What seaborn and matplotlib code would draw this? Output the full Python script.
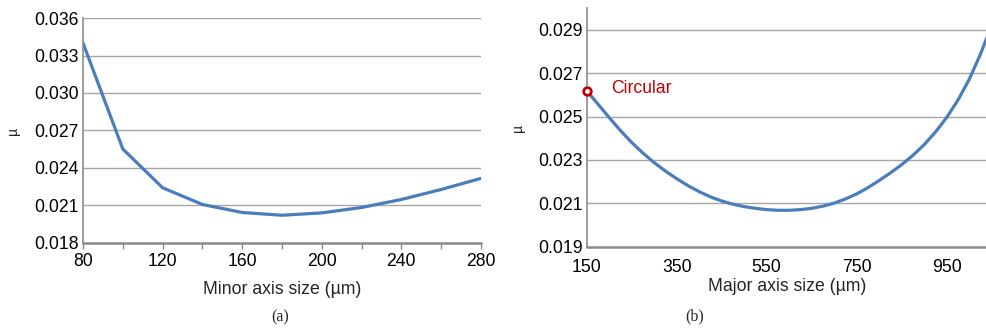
import numpy as np
import pandas as pd
import matplotlib
matplotlib.use("Agg")
import matplotlib.pyplot as plt
import seaborn as sns

# ---- data ----
minor_size = [80, 100, 120, 140, 160, 180, 200, 220, 240, 260, 280]
minor_mu = [0.0340, 0.02552, 0.02242, 0.02108, 0.02044, 0.02022,
            0.02041, 0.02084, 0.02148, 0.02228, 0.02317]

major_size = [150, 175, 200, 225, 250, 275, 300, 325, 350, 375, 400, 425,
              450, 475, 500, 525, 550, 575, 600, 625, 650, 675, 700, 725,
              750, 775, 800, 825, 850, 875, 900, 925, 950, 975, 1000,
              1025, 1040]
major_mu = [0.02620, 0.02558, 0.02496, 0.02436, 0.02381, 0.02332, 0.02288,
            0.02249, 0.02214, 0.02182, 0.02154, 0.02130, 0.02111, 0.02096,
            0.02085, 0.02077, 0.02071, 0.02068, 0.02068, 0.02071, 0.02077,
            0.02087, 0.02101, 0.02120, 0.02143, 0.02172, 0.02205, 0.02240,
            0.02278, 0.02321, 0.02370, 0.02428, 0.02495, 0.02575, 0.02670,
            0.02786, 0.02866]

circular_size = [150]
circular_mu = [0.02620]

minor_ticks_x = [80, 120, 160, 200, 240, 280]
minor_ticks_y = [0.018, 0.021, 0.024, 0.027, 0.030, 0.033, 0.036]
major_ticks_x = [150, 350, 550, 750, 950]
major_ticks_y = [0.019, 0.021, 0.023, 0.025, 0.027, 0.029]

df_a = pd.DataFrame({"size": minor_size, "mu": minor_mu})
df_b = pd.DataFrame({"size": major_size, "mu": major_mu})

sns.set_style("white")
plt.rcParams['font.family'] = ['Liberation Sans', 'DejaVu Sans']

LINE = "#4a7ebb"
GRID = "#a6a6a6"
SPINE = "#8c8c8c"
RED = "#c00000"
FS = 12.7

fig = plt.figure(figsize=(9.87, 3.31), dpi=100)
ax1 = fig.add_axes([0.0841, 0.2659, 0.4032, 0.6797])
ax2 = fig.add_axes([0.5944, 0.2547, 0.4056, 0.7203])

## (a) minor axis
sns.lineplot(data=df_a, x="size", y="mu", ax=ax1, color=LINE, linewidth=2.3)
ax1.set_xlim(80, 280)
ax1.set_ylim(0.018, 0.036)
ax1.set_xticks(minor_ticks_x)
ax1.set_xticks(np.arange(80, 281, 20), minor=True)
ax1.set_yticks(minor_ticks_y)
ax1.set_yticklabels([f"{v:.3f}" for v in minor_ticks_y])
ax1.tick_params(axis="x", which="both", direction="out", length=4, width=1,
                bottom=True, labelsize=FS, pad=3)
ax1.tick_params(axis="y", length=0, labelsize=FS, pad=3)
ax1.set_xlabel("Minor axis size (µm)", fontsize=FS, labelpad=8)
ax1.set_ylabel("µ", fontsize=10, labelpad=10)

## (b) major axis
sns.lineplot(data=df_b, x="size", y="mu", ax=ax2, color=LINE, linewidth=2.3)
ax2.scatter(circular_size, circular_mu, s=30, facecolor="white", edgecolor=RED,
            linewidth=2, zorder=5, clip_on=False)
ax2.text(205, 0.02628, "Circular", color=RED, fontsize=FS, va="center")
ax2.set_xlim(150, 1040)
ax2.set_ylim(0.019, 0.030)
ax2.set_xticks(major_ticks_x)
ax2.set_yticks(major_ticks_y)
ax2.set_yticklabels([f"{v:.3f}" for v in major_ticks_y])
ax2.tick_params(axis="x", length=0, labelsize=FS, pad=9)
ax2.tick_params(axis="y", length=0, labelsize=FS, pad=3)
ax2.set_xlabel("Major axis size (µm)", fontsize=FS, labelpad=1)
ax2.set_ylabel("µ", fontsize=10, labelpad=9)

for ax in (ax1, ax2):
    ax.grid(axis="y", color=GRID, linewidth=1)
    ax.set_axisbelow(True)
    ax.spines["top"].set_visible(False)
    ax.spines["right"].set_visible(False)
    ax.spines["left"].set_color(SPINE)
    ax.spines["left"].set_linewidth(1.2)
    ax.spines["bottom"].set_color(SPINE)
    ax.spines["bottom"].set_linewidth(1.8)
    ax.tick_params(labelcolor="black")

ax1.tick_params(axis="x", which="both", color=SPINE)

fig.text(0.2836, 0.04, "(a)", ha="center", va="center", fontsize=11.5,
         family=["Liberation Serif", "DejaVu Serif"])
fig.text(0.7035, 0.043, "(b)", ha="center", va="center", fontsize=11.5,
         family=["Liberation Serif", "DejaVu Serif"])

fig.savefig("out.png", dpi=100)
